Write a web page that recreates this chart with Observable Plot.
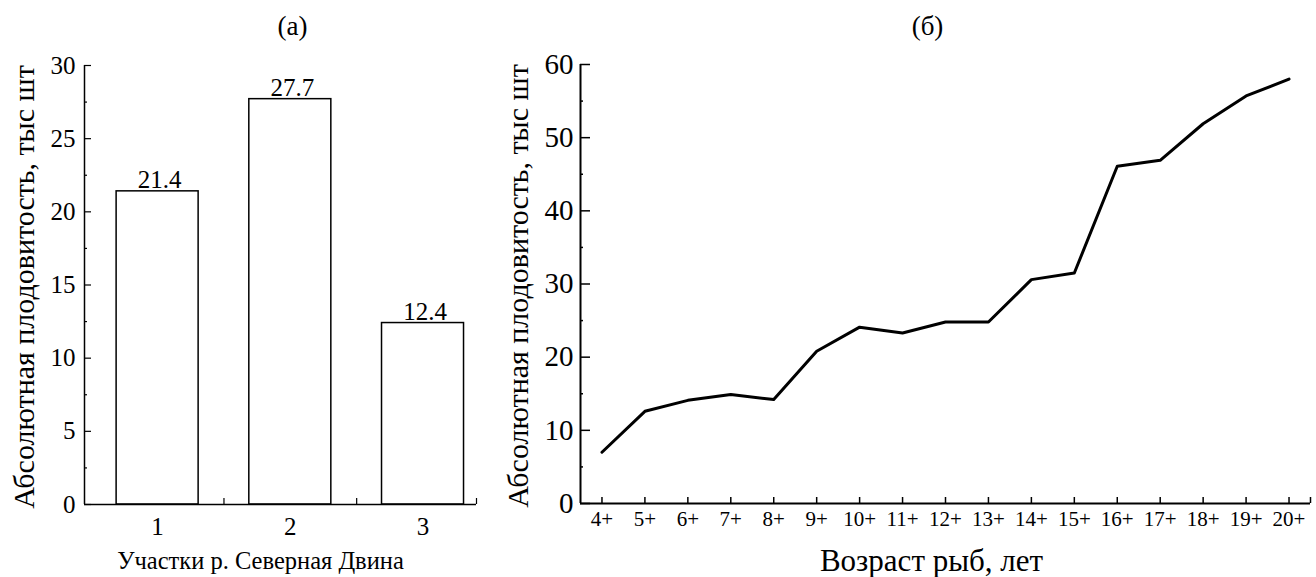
<!DOCTYPE html>
<html>
<head>
<meta charset="utf-8">
<script src="https://cdn.jsdelivr.net/npm/d3@7"></script>
<script src="https://cdn.jsdelivr.net/npm/@observablehq/plot@0.6"></script>
<style>
  html, body { margin: 0; padding: 0; background: #fff; }
  #wrap { position: relative; width: 1316px; height: 577px; overflow: hidden; }
  #left, #right { position: absolute; top: 0; }
  #left { left: 0; }
  #right { left: 500px; }
  svg, svg text { font-family: "Liberation Serif", "Times New Roman", serif !important; }
</style>
</head>
<body>
<div id="wrap"><div id="left"></div><div id="right"></div></div>
<script>
// ---- Data ----
const sites = [1, 2, 3];
const siteFecundity = [21.4, 27.7, 12.4];
const ages = ["4+", "5+", "6+", "7+", "8+", "9+", "10+", "11+", "12+", "13+", "14+", "15+", "16+", "17+", "18+", "19+", "20+"];
const ageFecundity = [7.0, 12.6, 14.1, 14.9, 14.2, 20.8, 24.1, 23.3, 24.8, 24.8, 30.6, 31.5, 46.1, 46.9, 51.9, 55.7, 58.0];
const leftYTicks = [0, 5, 10, 15, 20, 25, 30];
const rightYTicks = [0, 10, 20, 30, 40, 50, 60];
const yLabel = "Абсолютная плодовитость, тыс шт";
const leftXLabel = "Участки р. Северная Двина";
const rightXLabel = "Возраст рыб, лет";
const titleA = "(а)";
const titleB = "(б)";

const font = "Liberation Serif";

// ---- Panel (а): bars ----
const barData = sites.map((s, i) => ({site: s, value: siteFecundity[i]}));
const half = 0.309;
const xDomL = [0.449, 3.403];
const midTicks = sites.slice(1).map(s => s - 0.5).concat([xDomL[1]]);
const minorL = leftYTicks.slice(1).map(t => t - 2.5);

const left = Plot.plot({
  width: 500, height: 577,
  marginLeft: 84, marginRight: 24, marginTop: 65, marginBottom: 73,
  style: {fontFamily: font, color: "#000", background: "#fff", overflow: "visible"},
  x: {domain: xDomL, label: null},
  y: {domain: [0, 30], label: null},
  marks: [
    Plot.rectY(barData, {x1: d => d.site - half, x2: d => d.site + half, y: "value", fill: "#fff", stroke: "#000", strokeWidth: 1.5}),
    Plot.text(barData, {x: "site", y: "value", text: d => d.value.toFixed(1), lineAnchor: "bottom", dy: -3, dx: 2, fontSize: 25, fontFamily: font}),
    Plot.ruleY([0], {stroke: "#000", strokeWidth: 1.5}),
    Plot.ruleX([xDomL[0]], {stroke: "#000", strokeWidth: 1.5}),
    Plot.axisY({ticks: leftYTicks, tickSize: -7, tickPadding: 16, fontSize: 25, strokeWidth: 1.2, label: null, fontFamily: font}),
    Plot.axisY({ticks: minorL, tickSize: -3, tickFormat: () => "", strokeWidth: 1.2, label: null}),
    Plot.axisX({ticks: sites, tickSize: 0, tickPadding: 13, fontSize: 25, tickFormat: d => String(d), label: null, fontFamily: font}),
    Plot.axisX({ticks: midTicks, tickSize: -6, tickFormat: () => "", strokeWidth: 1.2, label: null}),
    Plot.text([leftXLabel], {frameAnchor: "bottom", text: d => d, dy: 64, dx: -20, lineAnchor: "bottom", fontSize: 24.5, fontFamily: font}),
    Plot.text([yLabel], {frameAnchor: "left", textAnchor: "middle", text: d => d, rotate: -90, dx: -60, dy: 2, fontSize: 30, fontFamily: font}),
    Plot.text([titleA], {frameAnchor: "top", text: d => d, dy: -31, dx: 12, lineAnchor: "bottom", fontSize: 27, fontFamily: font})
  ]
});
document.getElementById("left").appendChild(left);

// ---- Panel (б): line ----
const lineData = ages.map((a, i) => ({i, age: a, value: ageFecundity[i]}));
const xDomR = [-0.5, ages.length - 0.5];
const idx = ages.map((a, i) => i);
const minorR = rightYTicks.slice(1).map(t => t - 5);

const right = Plot.plot({
  width: 816, height: 577,
  marginLeft: 80, marginRight: 6, marginTop: 64, marginBottom: 74,
  style: {fontFamily: font, color: "#000", background: "#fff", overflow: "visible"},
  x: {domain: xDomR, label: null},
  y: {domain: [0, 60], label: null},
  marks: [
    Plot.line(lineData, {x: "i", y: "value", stroke: "#000", strokeWidth: 3, strokeLinejoin: "round"}),
    Plot.ruleY([0], {stroke: "#000", strokeWidth: 2}),
    Plot.ruleX([xDomR[0]], {stroke: "#000", strokeWidth: 2}),
    Plot.axisY({ticks: rightYTicks, tickSize: -10, tickPadding: 17, fontSize: 29, strokeWidth: 1.5, label: null, fontFamily: font}),
    Plot.axisY({ticks: minorR, tickSize: -3, tickFormat: () => "", strokeWidth: 1.5, label: null}),
    Plot.axisX({ticks: idx, tickSize: -6, tickPadding: 14, fontSize: 21, strokeWidth: 1.5, tickFormat: i => ages[i], label: null, fontFamily: font}),
    Plot.axisX({ticks: [xDomR[1]], tickSize: -6, tickFormat: () => "", strokeWidth: 1.5, label: null}),
    Plot.text([rightXLabel], {frameAnchor: "bottom", text: d => d, dy: 67, dx: -14, lineAnchor: "bottom", fontSize: 31, fontFamily: font}),
    Plot.text([yLabel], {frameAnchor: "left", textAnchor: "middle", text: d => d, rotate: -90, dx: -62, dy: 2, fontSize: 30, fontFamily: font}),
    Plot.text([titleB], {frameAnchor: "top", text: d => d, dy: -30, dx: -18, lineAnchor: "bottom", fontSize: 27, fontFamily: font})
  ]
});
document.getElementById("right").appendChild(right);
</script>
</body>
</html>
